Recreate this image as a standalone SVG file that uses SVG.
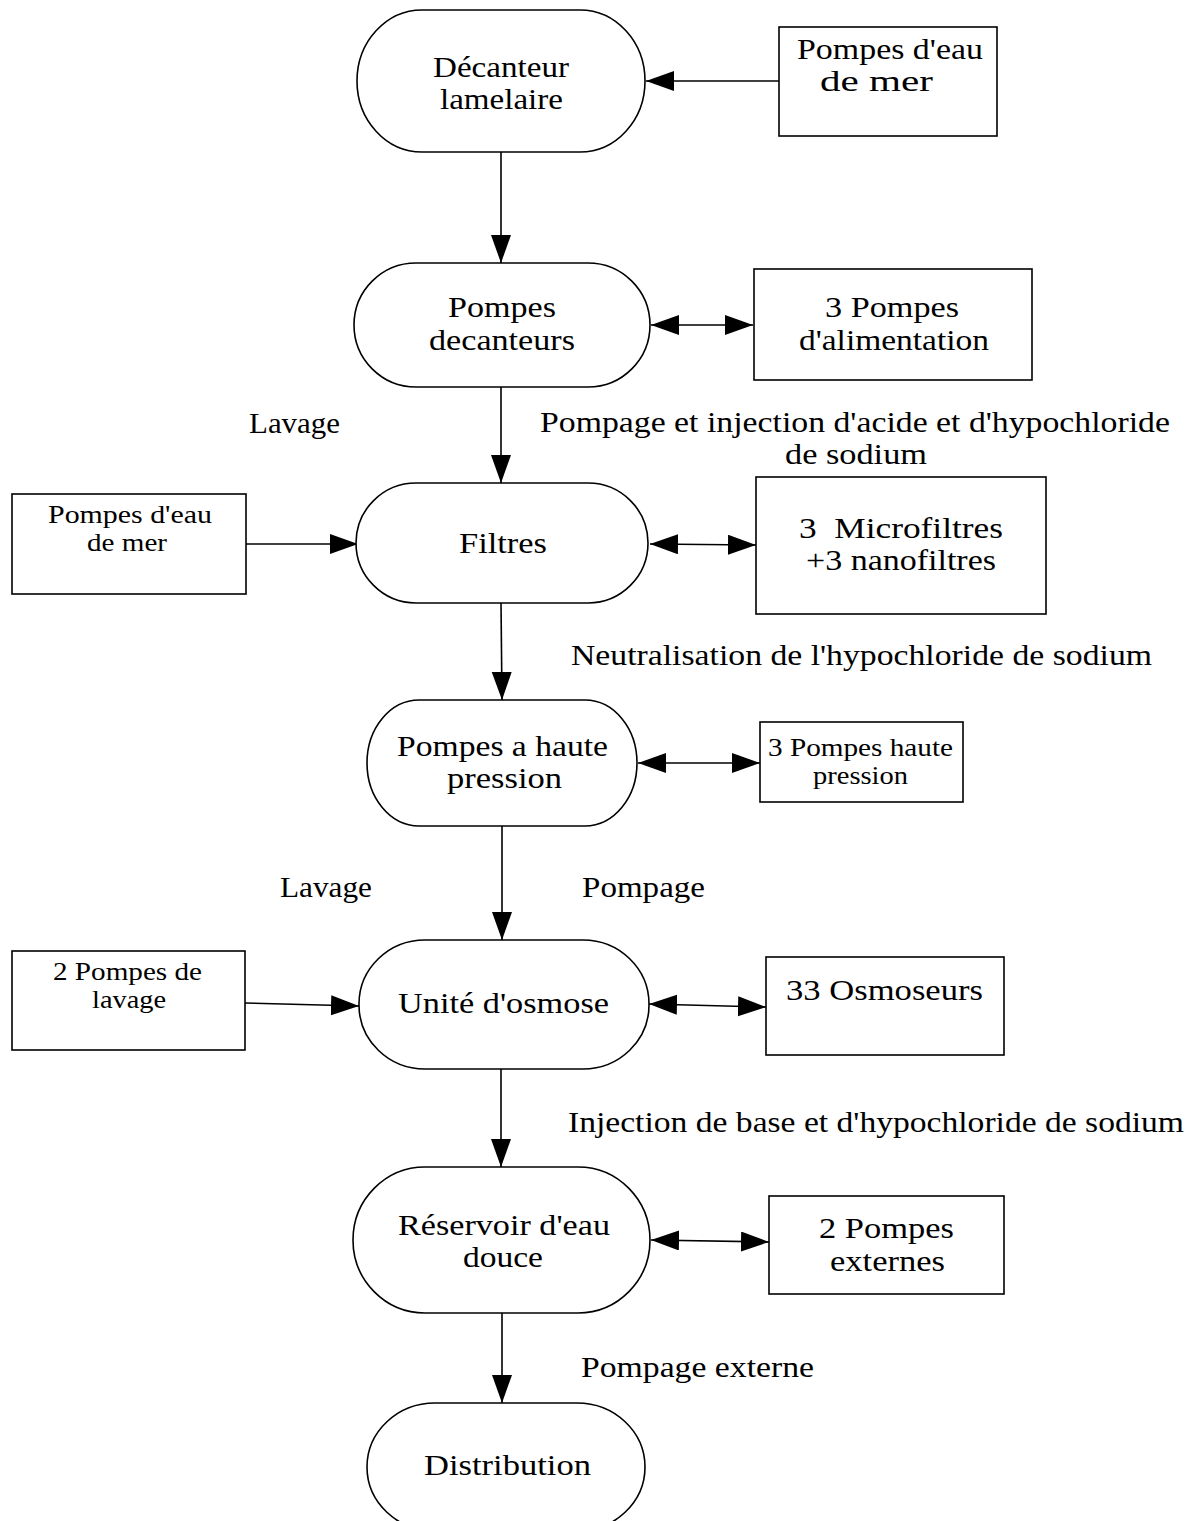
<svg xmlns="http://www.w3.org/2000/svg" width="1197" height="1521" viewBox="0 0 1197 1521">
<style>
.n{fill:#fff;stroke:#000;stroke-width:1.6}
.e{fill:none;stroke:#000;stroke-width:1.6}
text{font-family:"Liberation Serif","Times New Roman",serif;font-size:28.5px;fill:#000}
.s{font-size:25px}
</style>
<defs>
<marker id="ah" markerUnits="userSpaceOnUse" markerWidth="30" markerHeight="22" refX="28" refY="10" orient="auto-start-reverse" viewBox="0 0 30 22">
<path d="M0,0 L28,10 L0,20 Z" fill="#000"/>
</marker>
</defs>
<rect width="1197" height="1521" fill="#fff"/>
<g id="connectors">
<line class="e" x1="779" y1="81" x2="646" y2="81" marker-end="url(#ah)"/>
<line class="e" x1="501" y1="152" x2="501" y2="263" marker-end="url(#ah)"/>
<line class="e" x1="651" y1="325" x2="753" y2="325" marker-start="url(#ah)" marker-end="url(#ah)"/>
<line class="e" x1="501" y1="387" x2="501" y2="483" marker-end="url(#ah)"/>
<line class="e" x1="246" y1="544" x2="358" y2="544" marker-end="url(#ah)"/>
<line class="e" x1="650" y1="544" x2="756" y2="545" marker-start="url(#ah)" marker-end="url(#ah)"/>
<line class="e" x1="501" y1="603" x2="502" y2="700" marker-end="url(#ah)"/>
<line class="e" x1="638" y1="763" x2="760" y2="763" marker-start="url(#ah)" marker-end="url(#ah)"/>
<line class="e" x1="502" y1="826" x2="502" y2="940" marker-end="url(#ah)"/>
<line class="e" x1="245" y1="1003" x2="359" y2="1006" marker-end="url(#ah)"/>
<line class="e" x1="649" y1="1004" x2="766" y2="1007" marker-start="url(#ah)" marker-end="url(#ah)"/>
<line class="e" x1="501" y1="1069" x2="501" y2="1167" marker-end="url(#ah)"/>
<line class="e" x1="651" y1="1240" x2="769" y2="1242" marker-start="url(#ah)" marker-end="url(#ah)"/>
<line class="e" x1="502" y1="1313" x2="502" y2="1403" marker-end="url(#ah)"/>
</g>
<g id="decanteur">
<rect class="n" x="357" y="10" width="288" height="142" rx="65" ry="71"/>
<text x="433" y="77" textLength="136" lengthAdjust="spacingAndGlyphs">Décanteur</text>
<text x="440" y="109" textLength="123" lengthAdjust="spacingAndGlyphs">lamelaire</text>
</g>
<g id="pompes-eau-mer-1">
<rect class="n" x="779" y="27" width="218" height="109"/>
<text x="797" y="59" textLength="186" lengthAdjust="spacingAndGlyphs">Pompes d'eau</text>
<text x="820" y="91" textLength="113" lengthAdjust="spacingAndGlyphs">de mer</text>
</g>
<g id="pompes-decanteurs">
<rect class="n" x="354" y="263" width="296" height="124" rx="62" ry="62"/>
<text x="448" y="317" textLength="108" lengthAdjust="spacingAndGlyphs">Pompes</text>
<text x="429" y="350" textLength="146" lengthAdjust="spacingAndGlyphs">decanteurs</text>
</g>
<g id="pompes-alimentation">
<rect class="n" x="754" y="269" width="278" height="111"/>
<text x="825" y="317" textLength="134" lengthAdjust="spacingAndGlyphs">3 Pompes</text>
<text x="799" y="350" textLength="190" lengthAdjust="spacingAndGlyphs">d'alimentation</text>
</g>
<g id="label-lavage-1">
<text x="249" y="433" textLength="91" lengthAdjust="spacingAndGlyphs">Lavage</text>
</g>
<g id="label-pompage-injection">
<text x="540" y="432" textLength="630" lengthAdjust="spacingAndGlyphs">Pompage et injection d'acide et d'hypochloride</text>
<text x="785" y="464" textLength="142" lengthAdjust="spacingAndGlyphs">de sodium</text>
</g>
<g id="pompes-eau-mer-2">
<rect class="n" x="12" y="494" width="234" height="100"/>
<text class="s" x="48" y="523" textLength="164" lengthAdjust="spacingAndGlyphs">Pompes d'eau</text>
<text class="s" x="87" y="551" textLength="80" lengthAdjust="spacingAndGlyphs">de mer</text>
</g>
<g id="filtres">
<rect class="n" x="356" y="483" width="292" height="120" rx="60" ry="60"/>
<text x="459" y="553" textLength="88" lengthAdjust="spacingAndGlyphs">Filtres</text>
</g>
<g id="microfiltres">
<rect class="n" x="756" y="477" width="290" height="137"/>
<text x="799" y="538" textLength="204" lengthAdjust="spacingAndGlyphs" xml:space="preserve">3  Microfiltres</text>
<text x="806" y="570" textLength="190" lengthAdjust="spacingAndGlyphs">+3 nanofiltres</text>
</g>
<g id="label-neutralisation">
<text x="571" y="665" textLength="581" lengthAdjust="spacingAndGlyphs">Neutralisation de l'hypochloride de sodium</text>
</g>
<g id="pompes-haute-pression">
<rect class="n" x="367" y="700" width="270" height="126" rx="52" ry="63"/>
<text x="397" y="756" textLength="211" lengthAdjust="spacingAndGlyphs">Pompes a haute</text>
<text x="447" y="788" textLength="115" lengthAdjust="spacingAndGlyphs">pression</text>
</g>
<g id="pompes-haute-pression-3">
<rect class="n" x="760" y="722" width="203" height="80"/>
<text class="s" x="768" y="756" textLength="185" lengthAdjust="spacingAndGlyphs">3 Pompes haute</text>
<text class="s" x="813" y="784" textLength="95" lengthAdjust="spacingAndGlyphs">pression</text>
</g>
<g id="label-lavage-2">
<text x="280" y="897" textLength="92" lengthAdjust="spacingAndGlyphs">Lavage</text>
</g>
<g id="label-pompage">
<text x="582" y="897" textLength="123" lengthAdjust="spacingAndGlyphs">Pompage</text>
</g>
<g id="pompes-lavage">
<rect class="n" x="12" y="951" width="233" height="99"/>
<text class="s" x="53" y="980" textLength="149" lengthAdjust="spacingAndGlyphs">2 Pompes de</text>
<text class="s" x="92" y="1008" textLength="74" lengthAdjust="spacingAndGlyphs">lavage</text>
</g>
<g id="unite-osmose">
<rect class="n" x="359" y="940" width="290" height="129" rx="66" ry="64"/>
<text x="398" y="1013" textLength="211" lengthAdjust="spacingAndGlyphs">Unité d'osmose</text>
</g>
<g id="osmoseurs">
<rect class="n" x="766" y="957" width="238" height="98"/>
<text x="786" y="1000" textLength="197" lengthAdjust="spacingAndGlyphs">33 Osmoseurs</text>
</g>
<g id="label-injection-base">
<text x="568" y="1132" textLength="616" lengthAdjust="spacingAndGlyphs">Injection de base et d'hypochloride de sodium</text>
</g>
<g id="reservoir">
<rect class="n" x="353" y="1167" width="297" height="146" rx="72" ry="73"/>
<text x="398" y="1235" textLength="212" lengthAdjust="spacingAndGlyphs">Réservoir d'eau</text>
<text x="463" y="1267" textLength="80" lengthAdjust="spacingAndGlyphs">douce</text>
</g>
<g id="pompes-externes">
<rect class="n" x="769" y="1196" width="235" height="98"/>
<text x="819" y="1238" textLength="135" lengthAdjust="spacingAndGlyphs">2 Pompes</text>
<text x="830" y="1271" textLength="115" lengthAdjust="spacingAndGlyphs">externes</text>
</g>
<g id="label-pompage-externe">
<text x="581" y="1377" textLength="233" lengthAdjust="spacingAndGlyphs">Pompage externe</text>
</g>
<g id="distribution">
<rect class="n" x="367" y="1403" width="278" height="128" rx="68" ry="64"/>
<text x="424" y="1475" textLength="167" lengthAdjust="spacingAndGlyphs">Distribution</text>
</g>
</svg>
